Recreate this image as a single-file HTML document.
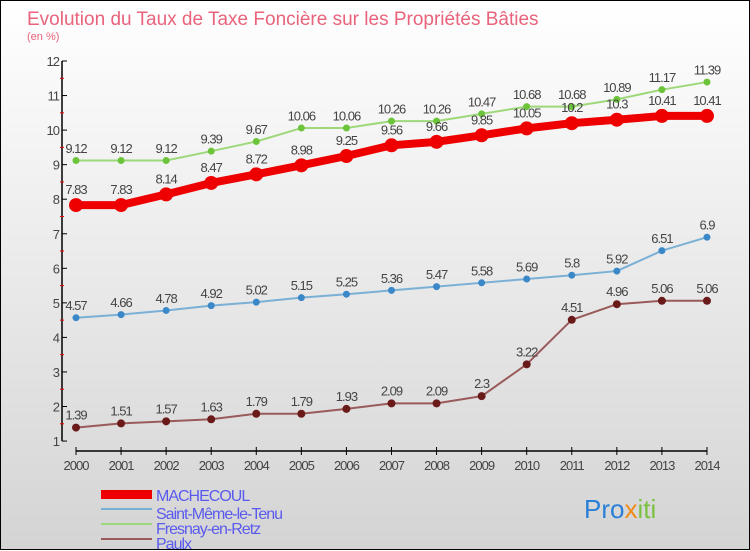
<!DOCTYPE html>
<html><head><meta charset="utf-8"><style>
body{margin:0;width:750px;height:550px;overflow:hidden;font-family:"Liberation Sans",sans-serif}
#wrap{position:absolute;left:0;top:0;width:748px;height:548px;border:1px solid #000;background:linear-gradient(#ffffff,#d4d4d4)}
</style></head><body>
<div id="wrap">
<svg id="chart" width="750" height="550" style="position:absolute;left:0;top:0">
<text x="26" y="24" font-size="19" fill="#e8637b">Evolution du Taux de Taxe Foncière sur les Propriétés Bâties</text>
<text x="26" y="39" font-size="11" fill="#e8637b">(en %)</text>
<g id="axes"></g><g id="series"></g>
<g>
<rect x="100" y="489" width="51" height="9" fill="#e00"/>
<text x="155" y="500" font-size="16" fill="#5a5aee" letter-spacing="-1">MACHECOUL</text>
<line x1="100" x2="151" y1="508" y2="508" stroke="#7ab0d6" stroke-width="2"/>
<text x="155" y="518" font-size="16" fill="#5a5aee" letter-spacing="-1">Saint-Même-le-Tenu</text>
<line x1="100" x2="151" y1="523" y2="523" stroke="#9ed87a" stroke-width="2"/>
<text x="155" y="533" font-size="16" fill="#5a5aee" letter-spacing="-1">Fresnay-en-Retz</text>
<line x1="100" x2="151" y1="538" y2="538" stroke="#9a5a5a" stroke-width="2"/>
<text x="155" y="548" font-size="16" fill="#5a5aee" letter-spacing="-1">Paulx</text>
</g>
<text x="583" y="517" font-size="26" fill="#2a7fd8">Pro<tspan fill="#f08a1a">x</tspan><tspan fill="#7ac142">iti</tspan></text>
</svg></div>
<script>
const years=[2000,2001,2002,2003,2004,2005,2006,2007,2008,2009,2010,2011,2012,2013,2014];
const machecoul=[7.83,7.83,8.14,8.47,8.72,8.98,9.25,9.56,9.66,9.85,10.05,10.2,10.3,10.41,10.41];
const saintMeme=[4.57,4.66,4.78,4.92,5.02,5.15,5.25,5.36,5.47,5.58,5.69,5.8,5.92,6.51,6.9];
const fresnay=[9.12,9.12,9.12,9.39,9.67,10.06,10.06,10.26,10.26,10.47,10.68,10.68,10.89,11.17,11.39];
const paulx=[1.39,1.51,1.57,1.63,1.79,1.79,1.93,2.09,2.09,2.3,3.22,4.51,4.96,5.06,5.06];
const yTicks=[1,2,3,4,5,6,7,8,9,10,11,12];
const NS="http://www.w3.org/2000/svg";
const X=i=>75+i*45.07, Y=v=>60+(12-v)*34.55;
function mk(p,t,a){const e=document.createElementNS(NS,t);for(const k in a)e.setAttribute(k,a[k]);p.appendChild(e);return e;}
const ax=document.getElementById('axes'), sg=document.getElementById('series');
mk(ax,'line',{x1:61,x2:61,y1:60,y2:440,stroke:'#000','stroke-width':1.5});
mk(ax,'line',{x1:75,x2:706,y1:450,y2:450,stroke:'#000','stroke-width':1.5});
yTicks.forEach(v=>{mk(ax,'line',{x1:61,x2:66,y1:Y(v),y2:Y(v),stroke:'#000'});
 if(v<12)mk(ax,'line',{x1:59,x2:63,y1:Y(v+0.5),y2:Y(v+0.5),stroke:'#e00'});
 const t=mk(ax,'text',{x:58,y:Y(v)+5,'font-size':13,fill:'#444','text-anchor':'end','letter-spacing':-1});t.textContent=v;
 });
years.forEach((y,i)=>{mk(ax,'line',{x1:X(i),x2:X(i),y1:446,y2:454,stroke:'#000'});
 const t=mk(ax,'text',{x:X(i),y:469,'font-size':13,fill:'#444','text-anchor':'middle','letter-spacing':-1});t.textContent=y;
 });
function series(name,vals,color,dot,w,r){
 const g=mk(sg,'g',{});
 mk(g,'polyline',{points:vals.map((v,i)=>X(i)+','+Y(v)).join(' '),fill:'none',stroke:color,'stroke-width':w,'stroke-linejoin':'round'});
 vals.forEach((v,i)=>{const c=mk(g,'circle',{cx:X(i),cy:Y(v),r:r,fill:dot});
  const t=mk(g,'text',{x:X(i),y:Y(v)-(r+4),'font-size':13,fill:'#444','text-anchor':'middle','letter-spacing':-1});t.textContent=String(v);});
}
series('paulx',paulx,'#9a5a5a','#6b1a1a',2,4);
series('saint-meme',saintMeme,'#7ab0d6','#3a88c8',2,3.5);
series('fresnay',fresnay,'#9ed87a','#6cc43a',2,3.5);
series('machecoul',machecoul,'#e00','#e00',8,7);
</script></body></html>
